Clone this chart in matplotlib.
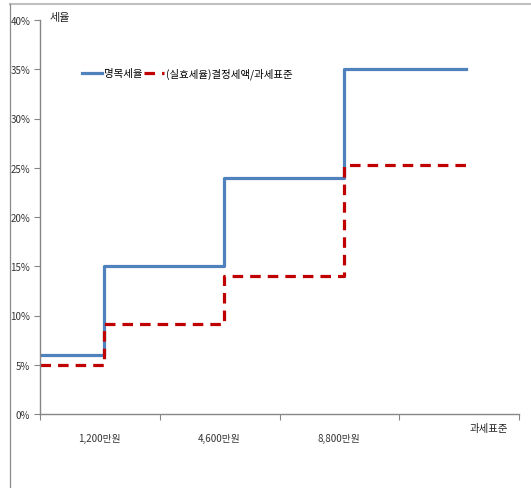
import matplotlib.pyplot as plt
from matplotlib.lines import Line2D

plt.rcParams['font.family'] = ['Noto Sans CJK KR', 'DejaVu Sans']

# bracket edges on the category axis (0..4) and rates in %
step_edges = [0, 0.535, 1.535, 2.54, 3.56]
nominal_rate = [6, 15, 24, 35]            # 명목세율
effective_rate = [5, 9.1, 14, 25.3]       # (실효세율)결정세액/과세표준
x_labels = ['1,200만원', '4,600만원', '8,800만원']
y_ticks = [0, 5, 10, 15, 20, 25, 30, 35, 40]

W, H = 531, 489
fig = plt.figure(figsize=(W / 100, H / 100), dpi=100)

# frame lines on top and left of the whole chart area
fig.add_artist(Line2D([10 / W, 1], [1 - 5 / H, 1 - 5 / H], color='#bfbfbf', lw=1.5))
fig.add_artist(Line2D([10 / W, 10 / W], [0, 1 - 5 / H], color='#8a8a8a', lw=0.9))

ax = fig.add_axes([40 / W, (H - 415) / H, 479 / W, 394 / H])

ax.step(step_edges, nominal_rate + [nominal_rate[-1]], where='post',
        color='#4F81BD', lw=2.3, label='명목세율')
ax.step(step_edges, effective_rate + [effective_rate[-1]], where='post',
        color='#C00000', lw=2.3, ls=(0, (3.3, 2.2)), label='(실효세율)결정세액/과세표준')

ax.set_xlim(0, 4)
ax.set_ylim(0, 40)
ax.set_yticks(y_ticks)
ax.set_yticklabels([f'{v}%' for v in y_ticks])

# category boundaries get the tick marks, labels sit in the middle
ax.set_xticks([0, 1, 2, 3, 4])
ax.set_xticklabels([])
ax.set_xticks([0.5, 1.5, 2.5], minor=True)
ax.set_xticklabels(x_labels, minor=True)
ax.tick_params(axis='x', which='minor', length=0, pad=14, labelsize=7, labelcolor='#333333')
ax.tick_params(axis='x', which='major', length=4, color='#868686', direction='out')
ax.tick_params(axis='y', length=4, color='#868686', labelsize=7, labelcolor='#333333', pad=3)

for s in ['top', 'right']:
    ax.spines[s].set_visible(False)
for s in ['left', 'bottom']:
    ax.spines[s].set_color('#868686')
    ax.spines[s].set_linewidth(1)

fig.text(50 / W, 1 - 18 / H, '세율', fontsize=8, va='center', ha='left', color='#222222')
fig.text(489 / W, 1 - 429 / H, '과세표준', fontsize=7.5, va='center', ha='center', color='#222222')

ax.legend(loc='center left', bbox_to_anchor=(0.088, 0.865), ncol=2, frameon=False,
          fontsize=7.5, handlelength=1.9, handletextpad=0.2, columnspacing=0.15,
          borderpad=0, borderaxespad=0)

fig.savefig('out.png', dpi=100)
